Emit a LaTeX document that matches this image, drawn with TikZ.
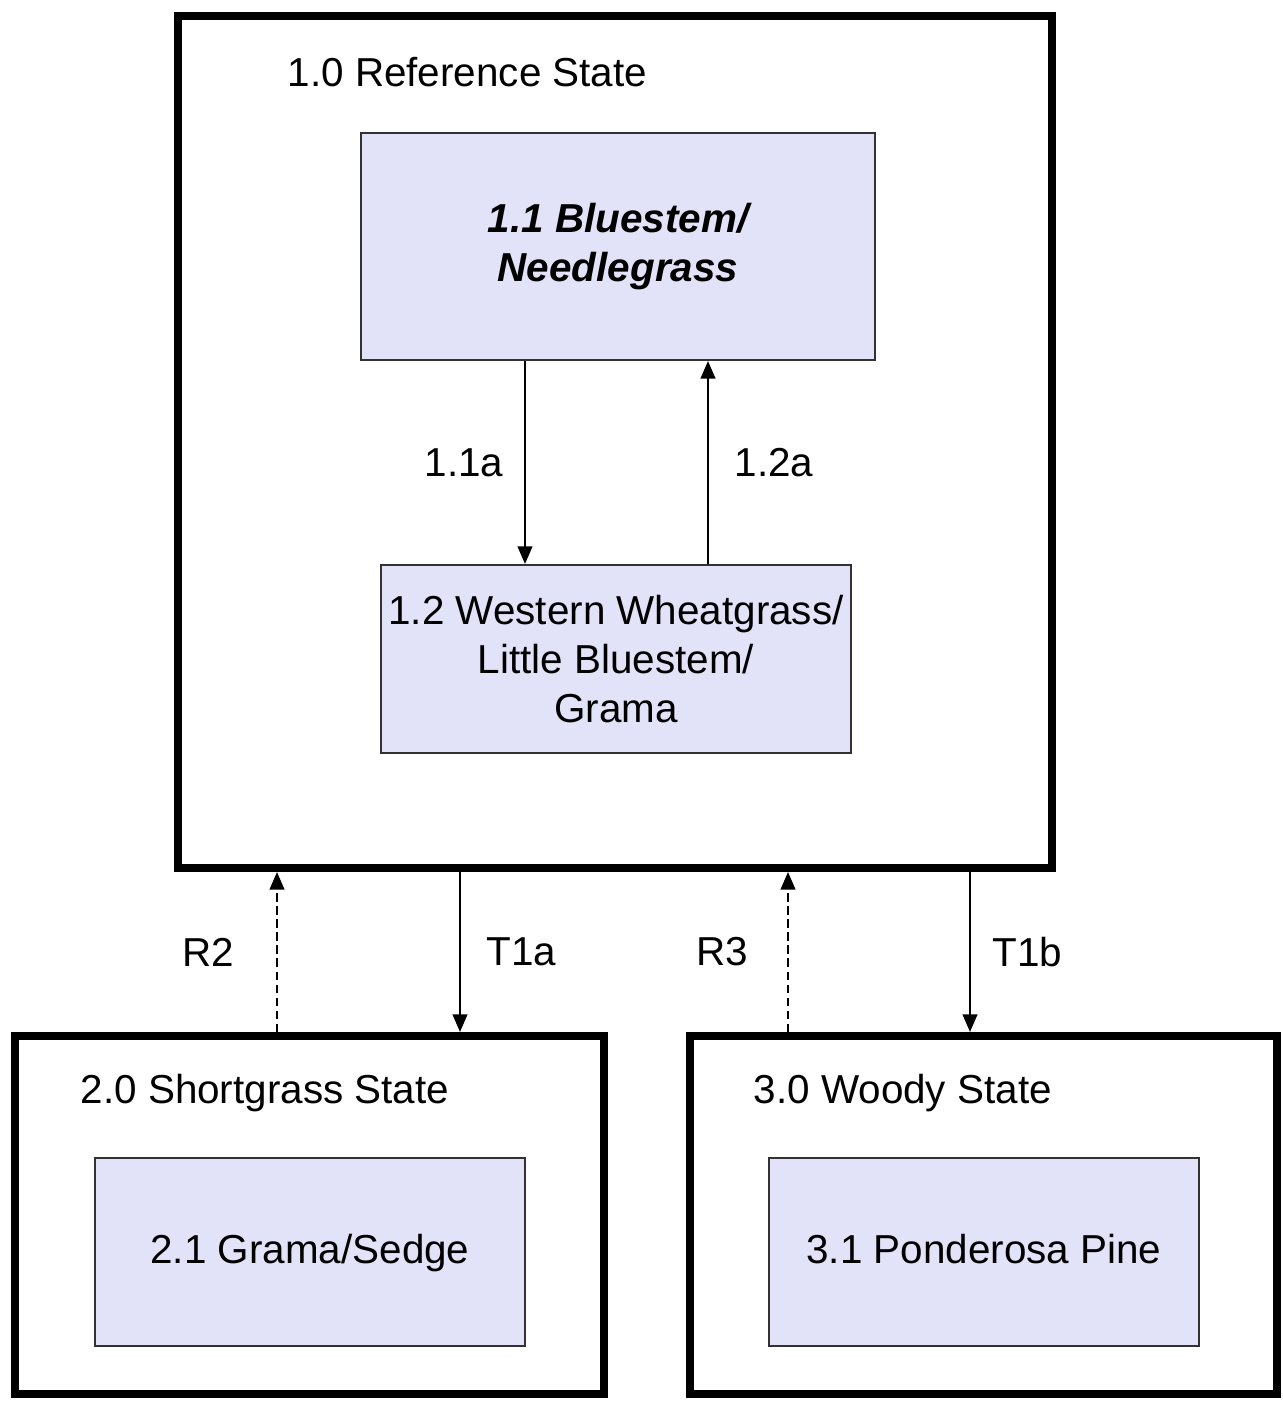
\documentclass[tikz,border=0pt]{standalone}
\usepackage{fontspec}
\setmainfont{Liberation Sans}
\usetikzlibrary{arrows.meta}
\definecolor{phasefill}{RGB}{226,226,248}
\definecolor{phaseline}{RGB}{50,50,50}
\tikzset{
  statebox/.style={draw=black, line width=2.3pt, minimum width=#1},
  phasebox/.style={draw=phaseline, fill=phasefill, line width=0.6pt, align=center, inner xsep=1pt},
  trans/.style={line width=0.5pt, -{Triangle[length=5pt,width=4.2pt]}},
  restore/.style={trans, dash pattern=on 2.4pt off 1.3pt},
  lbl/.style={font=\fontsize{11.5}{14}\selectfont, inner sep=0pt}
}
\begin{document}
\begin{tikzpicture}[font=\fontsize{11.5}{14}\selectfont]
      \useasboundingbox (0,0) rectangle (12.83,14.03);
      % states
      \node[statebox=8.74cm, minimum height=8.52cm] (s1) at (6.15,9.61) {};
      \node[statebox=5.89cm, minimum height=3.58cm] (s2) at (3.095,1.88) {};
      \node[statebox=5.87cm, minimum height=3.58cm] (s3) at (9.835,1.88) {};
      \node[lbl, anchor=west] (t1) at (2.87,13.31) {1.0 Reference State};
      \node[lbl, anchor=west] (t2) at (0.80,3.10) {2.0 Shortgrass State};
      \node[lbl, anchor=west] (t3) at (7.53,3.10) {3.0 Woody State};
      % community phases
      \node[phasebox, minimum width=5.14cm, minimum height=2.27cm, font=\fontsize{11.5}{14}\selectfont\bfseries\itshape] (p11) at (6.18,11.565) {1.1 Bluestem/\\Needlegrass};
      \node[phasebox, minimum width=4.70cm, minimum height=1.88cm] (p12) at (6.16,7.44) {1.2 Western Wheatgrass/\\Little Bluestem/\\Grama};
      \node[phasebox, minimum width=4.30cm, minimum height=1.88cm, text height=1.6ex, text depth=0.4ex] (p21) at (3.10,1.51) {2.1 Grama/Sedge};
      \node[phasebox, minimum width=4.30cm, minimum height=1.88cm, text height=1.6ex, text depth=0.4ex] (p31) at (9.84,1.51) {3.1 Ponderosa Pine};
      % pathways
      \draw[trans] ([xshift=-9.3mm]p11.south) -- ([xshift=-9.3mm]p11.south |- p12.north)
        node[midway, left=0.9mm] {1.1a};
      \draw[trans] ([xshift=9.2mm]p12.north) -- ([xshift=9.2mm]p12.north |- p11.south)
        node[midway, right=1.4mm] {1.2a};
      % transitions and restorations
      \draw[restore] ([xshift=-3.25mm]s2.north) -- ([xshift=-3.25mm]s2.north |- s1.south)
        node[midway, left=3mm] {R2};
      \draw[trans] ([xshift=15.05mm]s2.north |- s1.south) -- ([xshift=15.05mm]s2.north)
        node[midway, right=1.4mm] {T1a};
      \draw[restore] ([xshift=-19.55mm]s3.north) -- ([xshift=-19.55mm]s3.north |- s1.south)
        node[midway, left=2.7mm] {R3};
      \draw[trans] ([xshift=-1.35mm]s3.north |- s1.south) -- ([xshift=-1.35mm]s3.north)
        node[midway, right=1mm] {T1b};
\end{tikzpicture}
\end{document}
